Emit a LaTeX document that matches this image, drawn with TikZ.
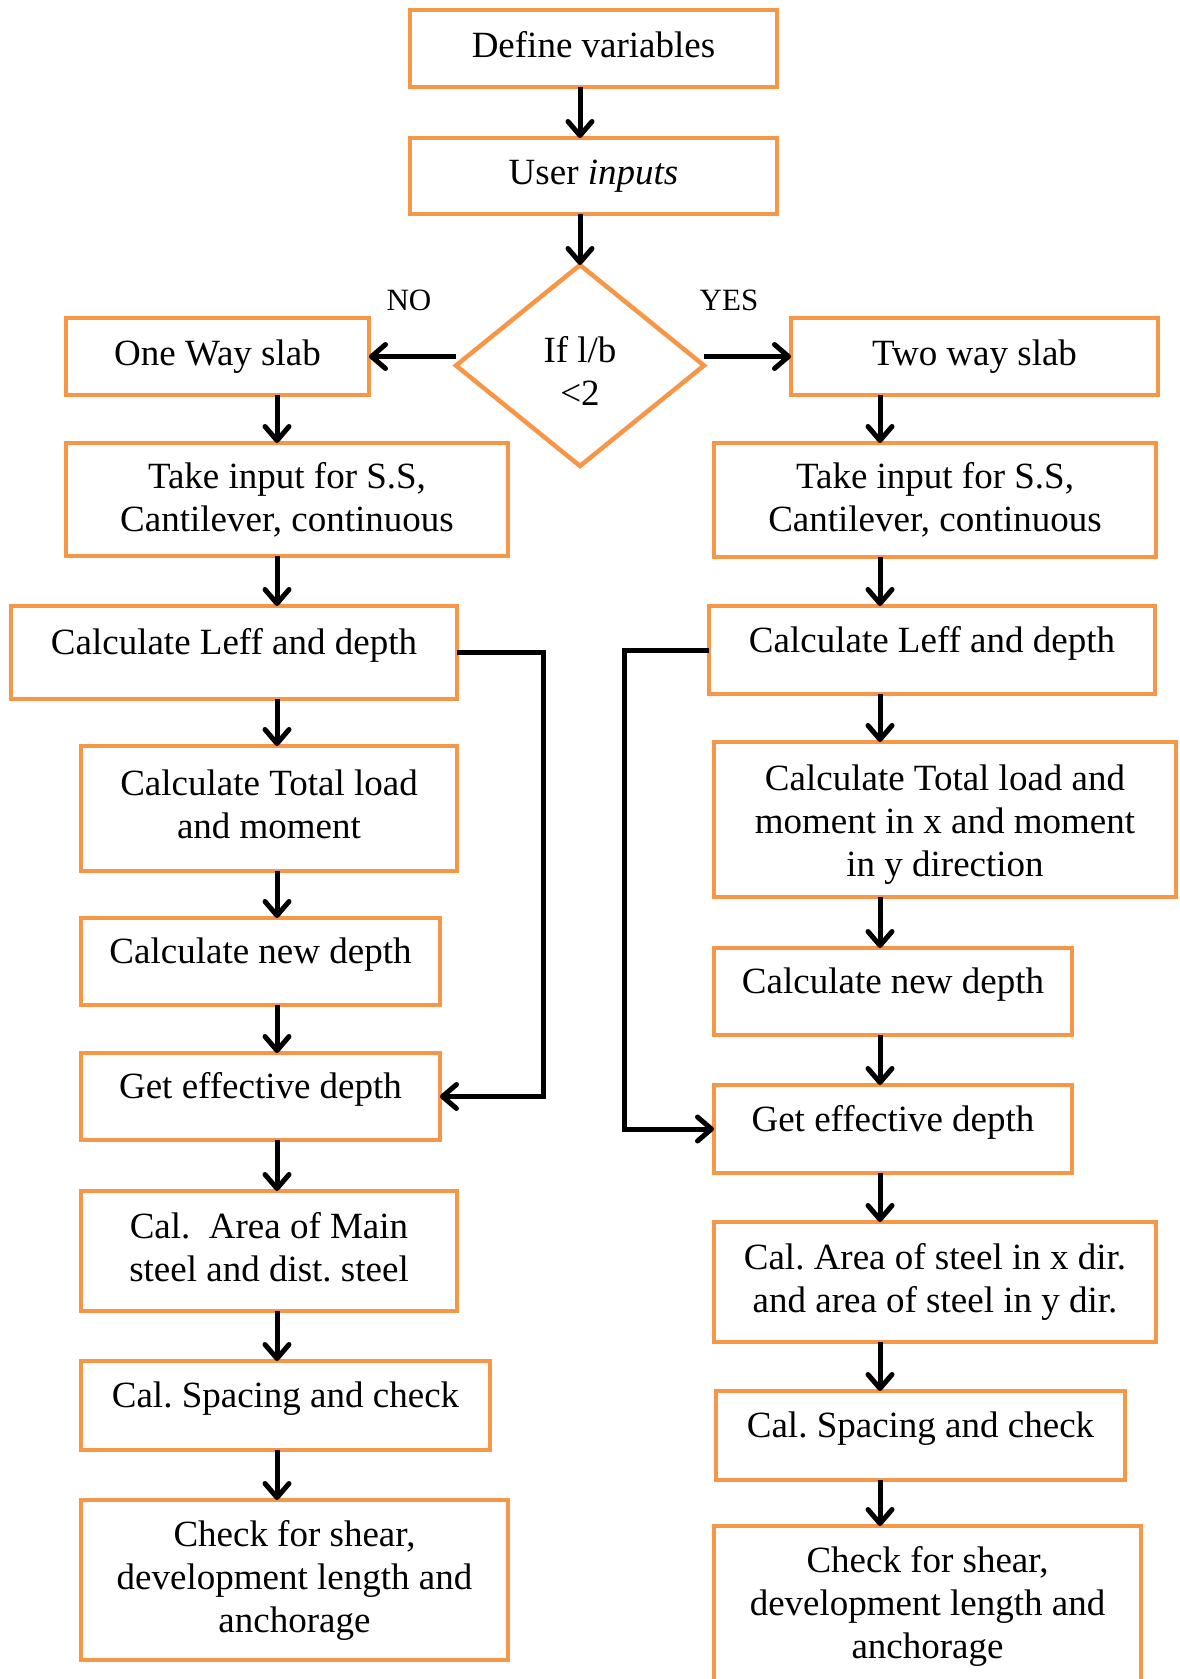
\documentclass[tikz,border=0pt]{standalone}
\usepackage{fontspec}
\setmainfont{Liberation Serif}
\usetikzlibrary{
        arrows.meta,
        positioning,
        shapes.geometric
    }
\frenchspacing
\definecolor{boxorange}{RGB}{247,150,70}
\tikzset{>={Straight Barb[length=14pt,width=24pt,line width=5pt,round]}}
\tikzset{flow/.style={->,line width=5pt}}
\tikzset{stepbox/.style={draw=boxorange,line width=4.5pt,rectangle,inner sep=0pt,outer sep=0pt,align=center,font=\fontsize{37pt}{43pt}\selectfont}}
\tikzset{raised/.style={text height=25pt,text depth=21pt}}
\tikzset{decision/.style={stepbox,diamond}}
\tikzset{answer/.style={font=\fontsize{31pt}{36pt}\selectfont}}

\begin{document}
\begin{tikzpicture}[x=1pt,y=-1pt]
                \useasboundingbox (0,0) rectangle (1179,1679);
                \node[stepbox,minimum width=367pt,minimum height=77pt] (define) at (593.5,48.5) {Define variables\vphantom{p}};
                \node[stepbox,minimum width=367pt,minimum height=76pt] (input) [below=51pt of define] {User \textit{inputs}};
                \node[decision,minimum width=248pt,minimum height=201pt] (cond) at (580,365.5) {\rule{0pt}{36pt}If l/b\\<2};
                \node[answer] (no) at (409,300) {NO};
                \node[answer] (yes) at (729,300) {YES};
                % one way side
                \node[stepbox,minimum width=303pt,minimum height=77pt] (oneway) at (217.5,356.5) {One Way slab};
                \node[stepbox,minimum width=442pt,minimum height=113pt] (ltake) at (287,499.5) {Take input for S.S,\\Cantilever, continuous};
                \node[stepbox,raised,minimum width=446pt,minimum height=93pt] (lleff) at (234,652.5) {Calculate Leff and depth};
                \node[stepbox,minimum width=376pt,minimum height=125pt] (ltotal) at (269,808.5) {Calculate Total load\\and moment\vphantom{p}};
                \node[stepbox,raised,minimum width=359pt,minimum height=87pt] (lnew) at (260.5,961.5) {Calculate new depth};
                \node[stepbox,raised,minimum width=359pt,minimum height=87pt] (leff) at (260.5,1096.5) {Get effective depth};
                \node[stepbox,minimum width=376pt,minimum height=120pt] (larea) at (269,1251) {Cal.\ \ Area of Main\\steel and dist. steel\vphantom{p}};
                \node[stepbox,raised,minimum width=409pt,minimum height=89pt] (lspace) at (285.5,1405.5) {Cal. Spacing and check};
                \node[stepbox,minimum width=427pt,minimum height=160pt] (lcheck) at (294.5,1580) {Check for shear,\\development length and\\anchorage};
                % two way side
                \node[stepbox,minimum width=367pt,minimum height=77pt] (twoway) at (974.5,356.5) {Two way slab};
                \node[stepbox,minimum width=442pt,minimum height=114pt] (rtake) at (935,500) {Take input for S.S,\\Cantilever, continuous};
                \node[stepbox,raised,minimum width=446pt,minimum height=88pt] (rleff) at (932,650) {Calculate Leff and depth};
                \node[stepbox,minimum width=462pt,minimum height=155pt] (rtotal) at (945,819.5) {\rule{0pt}{35pt}Calculate Total load and\\moment in x and moment\\in y direction};
                \node[stepbox,raised,minimum width=358pt,minimum height=87pt] (rnew) at (893,991.5) {Calculate new depth};
                \node[stepbox,raised,minimum width=358pt,minimum height=88pt] (reff) at (893,1129) {Get effective depth};
                \node[stepbox,minimum width=442pt,minimum height=120pt] (rarea) at (935,1282) {Cal. Area of steel in x dir.\\and area of steel in y dir.};
                \node[stepbox,raised,minimum width=409pt,minimum height=89pt] (rspace) at (920.5,1435.5) {Cal. Spacing and check};
                \node[stepbox,minimum width=427pt,minimum height=160pt] (rcheck) at (927.5,1606) {Check for shear,\\development length and\\anchorage};
                \coordinate (lcol) at (277,0);
                \coordinate (rcol) at (880,0);
                \path[flow]
                    (define.south -| cond) edge (input.north -| cond)
                    (input.south -| cond) edge (cond.north)
                    (cond.west |- oneway) edge (oneway.east)
                    (cond.east |- twoway) edge (twoway.west)
                    (oneway.south -| lcol) edge (ltake.north -| lcol)
                    (ltake.south -| lcol) edge (lleff.north -| lcol)
                    (lleff.south -| lcol) edge (ltotal.north -| lcol)
                    (ltotal.south -| lcol) edge (lnew.north -| lcol)
                    (lnew.south -| lcol) edge (leff.north -| lcol)
                    (leff.south -| lcol) edge (larea.north -| lcol)
                    (larea.south -| lcol) edge (lspace.north -| lcol)
                    (lspace.south -| lcol) edge (lcheck.north -| lcol)
                    (twoway.south -| rcol) edge (rtake.north -| rcol)
                    (rtake.south -| rcol) edge (rleff.north -| rcol)
                    (rleff.south -| rcol) edge (rtotal.north -| rcol)
                    (rtotal.south -| rcol) edge (rnew.north -| rcol)
                    (rnew.south -| rcol) edge (reff.north -| rcol)
                    (reff.south -| rcol) edge (rarea.north -| rcol)
                    (rarea.south -| rcol) edge (rspace.north -| rcol)
                    (rspace.south -| rcol) edge (rcheck.north -| rcol)
                    ;
                % skip loops
                \draw[flow] (lleff.east) -- ++(86,0) |- (leff.east);
                \draw[flow] (rleff.west) -- ++(-85,0) |- (reff.west);
            \end{tikzpicture}
\end{document}
